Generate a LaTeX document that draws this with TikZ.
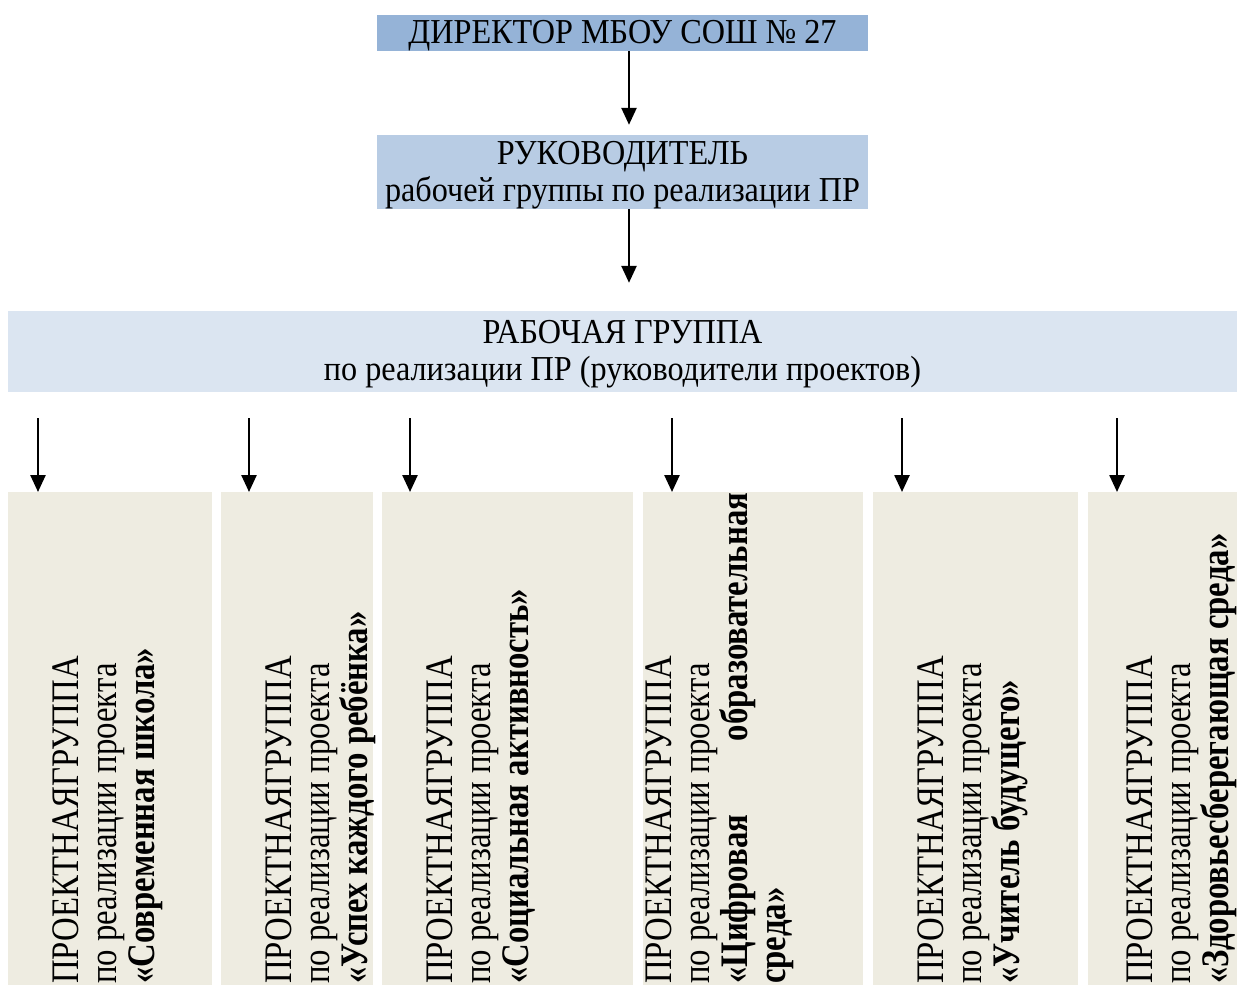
\documentclass[tikz,border=0pt]{standalone}
\usepackage{fontspec}
\setmainfont{Liberation Serif}
\newfontfamily\headfont{Liberation Serif}[FakeStretch=0.92]
\newfontfamily\colfont{Liberation Serif}[FakeStretch=0.84]
\usetikzlibrary{arrows.meta, positioning}
\definecolor{dirblue}{HTML}{95B3D7}
\definecolor{leadblue}{HTML}{B8CCE4}
\definecolor{groupblue}{HTML}{DBE5F1}
\definecolor{colbeige}{HTML}{EEECE1}
\tikzset{
    >={Triangle[width=15pt,length=17pt]},
    link/.style={->, line width=2.5pt},
    headbox/.style={inner sep=0pt, align=center, font=\headfont\fontsize{35}{37}\selectfont},
    colbox/.style={fill=colbeige, anchor=north west, minimum height=520pt, inner sep=0pt},
    coltext/.style={rotate=90, anchor=north west, inner sep=0pt, align=flush left,
        text width=491pt, font=\colfont\fontsize{39}{38}\selectfont},
}

\begin{document}
\begin{tikzpicture}[x=1pt, y=-1pt]
    \useasboundingbox (0,0) rectangle (1237,985);

    % top of the scheme
    \node[headbox, fill=dirblue, minimum width=491pt, minimum height=36pt] (dir) at (622.5,33) {\rule{0pt}{28pt}ДИРЕКТОР МБОУ СОШ №~27};
    \node[headbox, fill=leadblue, minimum width=491pt, minimum height=74pt] (lead) at (622.5,172) {\rule{0pt}{29pt}РУКОВОДИТЕЛЬ\\рабочей группы по реализации ПР};
    \node[headbox, fill=groupblue, minimum width=1229pt, minimum height=81pt] (group) at (622.5,351.5) {\rule{0pt}{29pt}РАБОЧАЯ ГРУППА\\по реализации ПР (руководители проектов)};

    \draw[link, shorten >=10pt] ([xshift=6.5pt]dir.south) -- ([xshift=6.5pt]lead.north);
    \draw[link, shorten >=28pt] ([xshift=6.5pt]lead.south) -- ([xshift=6.5pt]group.north);

    % project groups
    \node[colbox, minimum width=204pt] (c1) at (8,492) {};
    \node[colbox, minimum width=152pt] (c2) at (221,492) {};
    \node[colbox, minimum width=251pt] (c3) at (382,492) {};
    \node[colbox, minimum width=220pt] (c4) at (643,492) {};
    \node[colbox, minimum width=205pt] (c5) at (873,492) {};
    \node[colbox, minimum width=149pt] (c6) at (1088,492) {};

    \node[coltext] (t1) at (52,984) {ПРОЕКТНАЯГРУППА\\по реализации проекта\\\textbf{«Современная школа»}};
    \node[coltext] (t2) at (265,984) {ПРОЕКТНАЯГРУППА\\по реализации проекта\\\textbf{«Успех каждого ребёнка»}};
    \node[coltext] (t3) at (426,984) {ПРОЕКТНАЯГРУППА\\по реализации проекта\\\textbf{«Социальная активность»}};
    \node[coltext] (t4) at (645,984) {ПРОЕКТНАЯГРУППА\\по реализации проекта\\\textbf{«Цифровая \hfill образовательная}\\\textbf{среда»}};
    \node[coltext] (t5) at (917,984) {ПРОЕКТНАЯГРУППА\\по реализации проекта\\\textbf{«Учитель будущего»}};
    \node[coltext] (t6) at (1126,984) {ПРОЕКТНАЯГРУППА\\по реализации проекта\\\textbf{«Здоровьесберегающая среда»}};

    \coordinate (a1) at (38,418);
    \coordinate (a2) at (249,418);
    \coordinate (a3) at (410,418);
    \coordinate (a4) at (672,418);
    \coordinate (a5) at (902,418);
    \coordinate (a6) at (1117,418);
    \foreach \i in {1,...,6}
        \draw[link] (a\i) -- (a\i |- c\i.north);
\end{tikzpicture}
\end{document}
